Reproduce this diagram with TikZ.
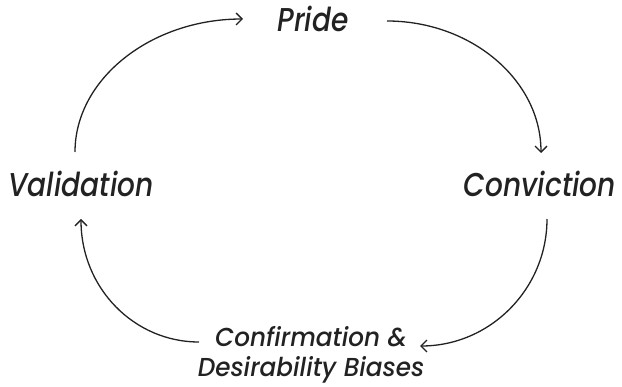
\documentclass[tikz,border=0pt]{standalone}
\usepackage{fontspec}
\setmainfont{Poppins}
\newfontfamily\bigfont{Poppins Medium Italic}[FakeStretch=0.85]
\newfontfamily\smallfont{Poppins Medium Italic}[FakeStretch=0.95]
\usetikzlibrary{arrows.meta}
\definecolor{ink}{HTML}{222222}
\begin{document}
\begin{tikzpicture}[x=1pt,y=-1pt,
  lbl/.style={font=\fontsize{33}{36}\bigfont, text=ink, inner sep=0pt, anchor=base},
  lblsmall/.style={font=\fontsize{26}{30}\smallfont, text=ink, inner sep=0pt, anchor=base, align=center},
  arr/.style={line width=1.3pt, ink, -{Straight Barb[length=6pt,width=12pt,line width=1.3pt]}}]
\useasboundingbox (0,0) rectangle (622,387);
\node[lbl] (pride) at (313,32) {Pride};
\node[lbl] (conv) at (540,197) {Conviction};
\node[lbl] (valid) at (81,197) {Validation};
\node[lblsmall] (conf) at (311,347) {Confirmation \&};
\node[lblsmall] (desi) at (311,377) {Desirability Biases};
\coordinate (a1s) at (75,152); \coordinate (a1e) at (243,19);
\coordinate (a2s) at (387,21); \coordinate (a2e) at (541,153);
\coordinate (a3s) at (547,219); \coordinate (a3e) at (420,346);
\coordinate (a4s) at (199,342); \coordinate (a4e) at (81,219);
\draw[arr] (a1s) .. controls (75,79) and (151,19) .. (a1e);
\draw[arr] (a2s) .. controls (471,21) and (541,80) .. (a2e);
\draw[arr] (a3s) .. controls (547,289) and (490,346) .. (a3e);
\draw[arr] (a4s) .. controls (134,342) and (81,288) .. (a4e);
\end{tikzpicture}
\end{document}
